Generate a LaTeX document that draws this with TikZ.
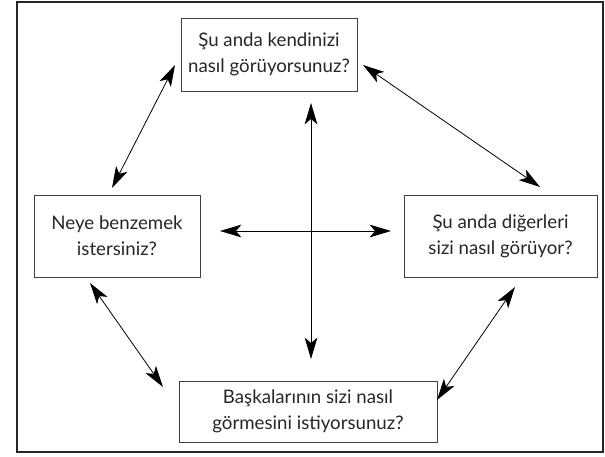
\documentclass[tikz,border=0pt]{standalone}
\usepackage{fontspec}
\setmainfont{Lato}
\usepackage{tikz}
\usetikzlibrary{arrows.meta}

\tikzset{
  soru/.style = {draw = black!75, line width = 0.6pt, align = center, inner sep = 0pt, text = black!85, font = \fontsize{14}{19.5}\selectfont},
  ok/.style = {line width = 0.6pt, {Stealth[length=16pt, width=9.5pt, inset=4pt]}-{Stealth[length=16pt, width=9.5pt, inset=4pt]}}
}

\begin{document}
\begin{tikzpicture}[x=0.75pt, y=-0.75pt]
\useasboundingbox (0,0) rectangle (605,456);

\draw[line width = 1.2pt, black!85] (17,2) rectangle (603,452);

\node[soru, minimum width = 176*0.75pt, minimum height = 73*0.75pt] (simdi) at (269,54.5) {Şu anda kendinizi\\nasıl görüyorsunuz?};
\node[soru, minimum width = 166*0.75pt, minimum height = 82*0.75pt] (ideal) at (117,236) {Neye benzemek\\istersiniz?};
\node[soru, minimum width = 193*0.75pt, minimum height = 82*0.75pt] (digerleri) at (500.5,236) {Şu anda diğerleri\\sizi nasıl görüyor?};
\node[soru, minimum width = 258*0.75pt, minimum height = 61*0.75pt] (baskalari) at (308,411.5) {Başkalarının sizi nasıl\\görmesini istiyorsunuz?};

% uclar
\coordinate (ust) at (311,103);
\coordinate (alt) at (311,359);
\coordinate (sol) at (220,231);
\coordinate (sag) at (391,231);
\coordinate (a1) at (175,65);
\coordinate (a2) at (112,188);
\coordinate (b1) at (363,65);
\coordinate (b2) at (540,187);
\coordinate (c1) at (90,283);
\coordinate (c2) at (163,387);
\coordinate (d1) at (515,287);
\coordinate (d2) at (437,400);

\draw[ok] (ust) -- (alt);
\draw[ok] (sol) -- (sag);
\draw[ok] (a1) -- (a2);
\draw[ok] (b1) -- (b2);
\draw[ok] (c1) -- (c2);
\draw[ok] (d1) -- (d2);
\end{tikzpicture}
\end{document}
